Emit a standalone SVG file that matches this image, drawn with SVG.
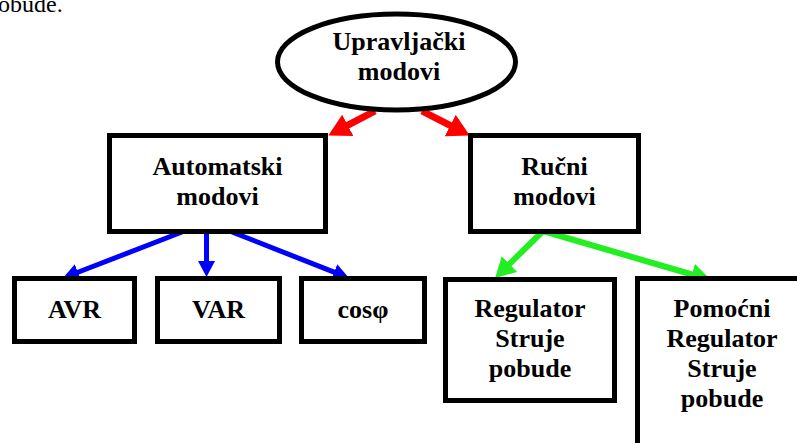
<svg xmlns="http://www.w3.org/2000/svg" width="797" height="443" viewBox="0 0 797 443">
<style>
.box{fill:#fff;stroke:#000;stroke-width:5}
</style>
<defs>
<marker id="hr" markerUnits="userSpaceOnUse" markerWidth="22" markerHeight="24" refX="2" refY="12" orient="auto"><path d="M0,0 L22,12 L0,24 z" fill="#ff0000"/></marker>
<marker id="hb" markerUnits="userSpaceOnUse" markerWidth="16" markerHeight="17" refX="2" refY="8.5" orient="auto"><path d="M0,0 L16,8.5 L0,17 z" fill="#0000ff"/></marker>
<marker id="hg" markerUnits="userSpaceOnUse" markerWidth="20" markerHeight="22" refX="2" refY="11" orient="auto"><path d="M0,0 L20,11 L0,22 z" fill="#22ee22"/></marker>
</defs>
<rect width="797" height="443" fill="#fff"/>
<text x="-14" y="12" font-family="Liberation Serif, serif" font-size="24">pobude.</text>
<g id="connectors" fill="none">
<g stroke="#ff0000" stroke-width="7">
<line x1="375" y1="111" x2="346" y2="126.2" marker-end="url(#hr)"/>
<line x1="422" y1="111" x2="452" y2="126.4" marker-end="url(#hr)"/>
</g>
<g stroke="#0000ff" stroke-width="5">
<line x1="182" y1="232" x2="76" y2="273" marker-end="url(#hb)"/>
<line x1="206.5" y1="232" x2="206.5" y2="263" marker-end="url(#hb)"/>
<line x1="232" y1="232" x2="336" y2="272.9" marker-end="url(#hb)"/>
</g>
<g stroke="#22ee22" stroke-width="6">
<line x1="543" y1="231" x2="508" y2="265.4" marker-end="url(#hg)"/>
<line x1="543" y1="231" x2="693.7" y2="275" marker-end="url(#hg)"/>
</g>
</g>
<g id="upravljacki" font-family="Liberation Serif, serif" font-size="26" font-weight="bold" text-anchor="middle">
<ellipse cx="396.5" cy="62" rx="119" ry="48" fill="#fff" stroke="#000" stroke-width="5"/>
<text x="399" y="50">Upravlja&#269;ki</text>
<text x="399" y="80">modovi</text>
</g>
<g id="automatski" font-family="Liberation Serif, serif" font-size="26" font-weight="bold" text-anchor="middle">
<rect class="box" x="109.5" y="135.5" width="216" height="96"/>
<text x="217.5" y="175">Automatski</text>
<text x="217.5" y="205">modovi</text>
</g>
<g id="rucni" font-family="Liberation Serif, serif" font-size="26" font-weight="bold" text-anchor="middle">
<rect class="box" x="470.5" y="135.5" width="168" height="96"/>
<text x="554.5" y="175">Ru&#269;ni</text>
<text x="554.5" y="205">modovi</text>
</g>
<g id="avr" font-family="Liberation Serif, serif" font-size="26" font-weight="bold" text-anchor="middle">
<rect class="box" x="14.5" y="278.5" width="120" height="63"/>
<text x="74.5" y="318">AVR</text>
</g>
<g id="var" font-family="Liberation Serif, serif" font-size="26" font-weight="bold" text-anchor="middle">
<rect class="box" x="157.5" y="278.5" width="122" height="63"/>
<text x="218.5" y="318">VAR</text>
</g>
<g id="cosphi" font-family="Liberation Serif, serif" font-size="26" font-weight="bold" text-anchor="middle">
<rect class="box" x="301.5" y="278.5" width="123" height="63"/>
<text x="363" y="318">cos&#966;</text>
</g>
<g id="regulator" font-family="Liberation Serif, serif" font-size="26" font-weight="bold" text-anchor="middle">
<rect class="box" x="445.5" y="279.5" width="169" height="121"/>
<text x="530" y="317">Regulator</text>
<text x="530" y="347">Struje</text>
<text x="530" y="377">pobude</text>
</g>
<g id="pomocni" font-family="Liberation Serif, serif" font-size="26" font-weight="bold" text-anchor="middle">
<rect class="box" x="637.5" y="278.5" width="170" height="200"/>
<text x="722" y="317">Pomo&#263;ni</text>
<text x="722" y="347">Regulator</text>
<text x="722" y="377">Struje</text>
<text x="722" y="407">pobude</text>
</g>
</svg>
